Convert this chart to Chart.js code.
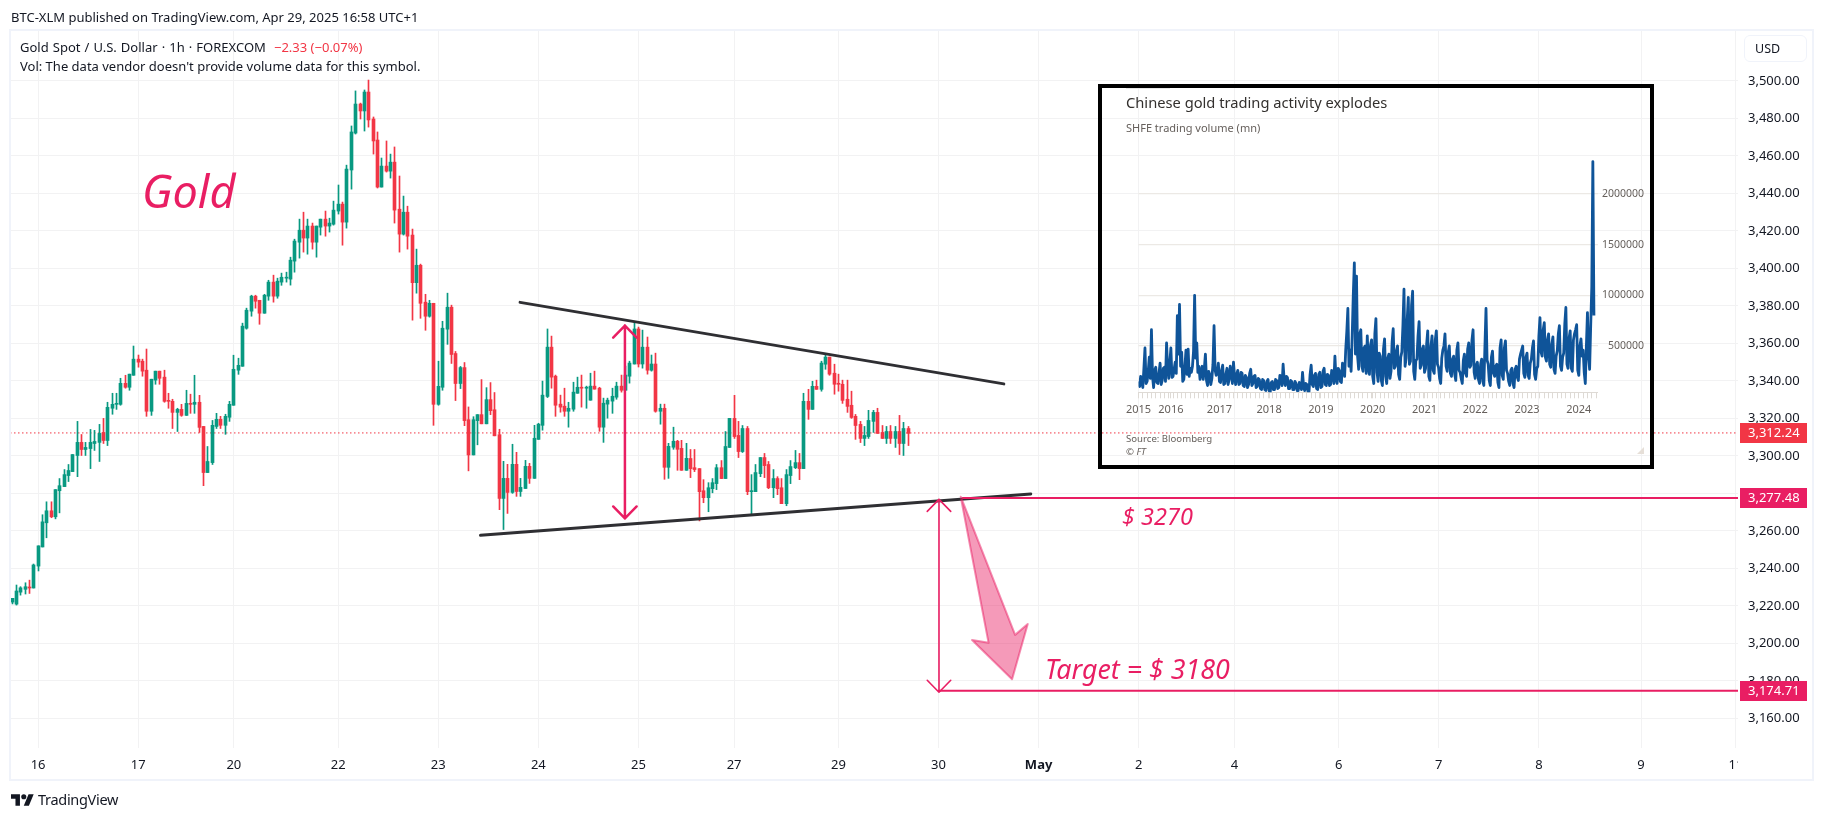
<!DOCTYPE html>
<html>
<head>
<meta charset="utf-8">
<title>Gold Spot / U.S. Dollar</title>
<script src="https://cdn.jsdelivr.net/npm/chart.js@4"></script>
<style>
  html, body { margin: 0; padding: 0; background: #fff; }
  body { width: 1824px; height: 819px; position: relative; overflow: hidden; font-family: "Noto Sans", sans-serif; color: #131722; }
  canvas { position: absolute; }
  #main { left: 0; top: 0; }
  #inset { left: 1100px; top: 90px; }
  .t { position: absolute; white-space: nowrap; line-height: 1; }
  .pink { color: #e91e63; font-style: italic; }
  #inset-box { position: absolute; left: 1098px; top: 84px; width: 548px; height: 377px; border: 4.5px solid #000; }
  #usd { position: absolute; left: 1744px; top: 35px; width: 63px; height: 27px; border: 1px solid #f0f3fa; border-radius: 6px; box-sizing: border-box; font-size: 12.5px; line-height: 25px; padding-left: 10px; }
  #resize { position: absolute; left: 1637px; top: 447px; width: 7px; height: 7px; background: #e6dfd8; clip-path: polygon(100% 0, 100% 100%, 0 100%); }
  #inset-rule { position: absolute; left: 1126px; top: 88px; width: 44px; height: 1px; background: #e6e6e6; }
</style>
</head>
<body>
<canvas id="main" width="1824" height="819"></canvas>
<canvas id="inset" width="552" height="378"></canvas>
<div id="inset-box"></div>
<div id="inset-rule"></div>
<div id="resize"></div>

<div class="t" style="left:11px;top:11px;font-size:13px">BTC-XLM published on TradingView.com, Apr 29, 2025 16:58 UTC+1</div>
<div class="t" style="left:20px;top:41px;font-size:13px;word-spacing:0.7px">Gold Spot / U.S. Dollar · 1h · FOREXCOM</div>
<div class="t" style="left:274px;top:41px;font-size:13px;color:#f23645">−2.33 (−0.07%)</div>
<div class="t" style="left:20px;top:60px;font-size:13px">Vol: The data vendor doesn't provide volume data for this symbol.</div>
<div id="usd">USD</div>

<div class="t pink" style="left:142px;top:168px;font-size:45px">Gold</div>
<div class="t pink" style="left:1122px;top:505px;font-size:23.5px">$ 3270</div>
<div class="t pink" style="left:1045px;top:656px;font-size:26.8px">Target = $ 3180</div>

<div class="t" style="left:1126px;top:95px;font-size:14.7px;color:#33302e">Chinese gold trading activity explodes</div>
<div class="t" style="left:1126px;top:122px;font-size:11px;color:#66605c">SHFE trading volume (mn)</div>
<div class="t" style="left:1126px;top:434px;font-size:9.6px;color:#66605c">Source: Bloomberg</div>
<div class="t" style="left:1126px;top:447px;font-size:9.6px;color:#66605c;font-style:italic">© FT</div>

<svg style="position:absolute;left:11px;top:794px" width="23" height="12" viewBox="0 4 36 18"><path fill="#131722" d="M14 22H7V11H0V4h14v18zM28 22h-8l7.5-18h8L28 22z"/><circle fill="#131722" cx="20" cy="8" r="4"/></svg>
<div class="t" style="left:38px;top:792px;font-size:14.5px;letter-spacing:-0.3px">TradingView</div>

<script>
// ── Hourly candles, one entry per bar ────────────────────────────────────
const OPENS = [
  3222,3220.9,3227.3,3228.8,3230,3229.5,3241.2,3251.4,3264.3,3270.7,3267.5,3281.4,3283.6,3289.5,3291.6,3300.2,3307.2,3303.4,3303.9,3306.6,
  3307.2,3312.5,3308.2,3325.4,3327.5,3327.5,3338.7,3336.6,3343,3351.6,3350.5,3345.7,3323.8,3340.4,3345.2,3342,3329.6,3329.1,3323.2,3324.8,
  3321.6,3328,3327.5,3328.6,3315.7,3291.1,3296.4,3315.7,3319.5,3316.3,3320.6,3327,3345.7,3347.8,3368.1,3377.2,3385.2,3383,3376.1,3385.2,
  3392.7,3385.2,3392.7,3394.8,3394.3,3403.9,3414,3420.4,3416.2,3422.6,3414,3422,3426.3,3422.6,3423.6,3430.6,3434.3,3424.7,3452.5,3472.2,
  3487.7,3484,3494.1,3479.7,3468.5,3443.4,3454.6,3451.9,3456.7,3431.6,3418.3,3430,3417.8,3392.4,3401.7,3382,3374.5,3381.4,3327.5,3336.6,
  3367.6,3379.3,3354.6,3338.6,3347.1,3319.3,3300.5,3318.8,3322,3317.1,3330,3324.6,3311.3,3277.3,3288,3280.5,3295.5,3281,3282.6,3294.4,
  3288,3308.8,3316.3,3331.7,3358,3342.5,3327.6,3326.5,3323.8,3324.9,3333.4,3336.6,3336.1,3329.7,3337.2,3336.1,3315.3,3327.6,3329.2,3331.3,
  3337.2,3335,3342.5,3349,3367.7,3349,3358,3345.7,3349,3323.8,3325.4,3293.9,3304.6,3307.8,3304,3292.3,3298.6,3293.7,3293.2,3281.4,
  3277.7,3282.5,3285.2,3293.7,3287.9,3304.5,3320,3310.9,3302.3,3314.6,3280.9,3280.9,3290.5,3299.1,3295.4,3283,3287.9,3283,3274.5,3289.5,
  3293.7,3296.4,3293.2,3329.1,3324.8,3337.1,3335.5,3348.9,3352.7,3344.1,3338.7,3338.2,3330.2,3327,3321.1,3316.8,3309.3,3310.3,3318.4,3323.2,
  3312.5,3309.3,3313,3309.3,3313,3306.6,3314.6
];
const HIGHS = [
  3224,3231.1,3230.2,3232.3,3233.7,3242.3,3252,3268.6,3275.5,3275.5,3282,3287.9,3292.7,3295.4,3300.7,3318.4,3311.4,3307.2,3314.1,3313.6,
  3316.8,3320,3328.6,3333.4,3333.4,3341.4,3343,3343.6,3358.6,3353.8,3351.6,3357,3340.9,3345.2,3345.2,3345.7,3333.4,3330.2,3325.4,3327.5,
  3335,3332.9,3343,3332.3,3315.7,3305,3318.9,3322.7,3321.1,3322.2,3329.1,3353.7,3352.1,3370.8,3378.8,3385.7,3385.7,3383,3386.2,3393.7,
  3396.4,3394.8,3397.5,3398,3406,3415.6,3426.3,3430,3426.3,3424.2,3422.6,3426.3,3430.6,3426.8,3435.9,3444.5,3435.4,3455.1,3476,3494.7,
  3488.2,3495.2,3500.5,3480.8,3472.8,3458.9,3468,3461,3464.8,3449.3,3438.6,3433.2,3421,3410.3,3402.3,3386.2,3383,3381.4,3350.5,3371.8,
  3386.8,3380.4,3355.7,3347.7,3349.8,3326.1,3320.9,3322,3340.7,3336.4,3339.1,3333.8,3314.2,3297.1,3295.5,3306.2,3301.9,3288,3297.6,3296,
  3316.3,3317.4,3339.9,3367.7,3363.9,3343.1,3332.4,3336.1,3328.6,3339.3,3342,3343.1,3337.2,3344.1,3345.2,3336.6,3330.8,3330.8,3336.1,3339.3,
  3343.1,3347.9,3350.5,3371.4,3368.7,3367.1,3363.4,3353.8,3354.8,3327.6,3327.6,3306.7,3315.3,3308.3,3308.3,3306.7,3303.4,3303.4,3293.2,3287.3,
  3285.7,3287.9,3295.4,3297.5,3313,3320,3332.3,3318.4,3316.2,3315.7,3290,3295.4,3299.1,3301.3,3297,3292.7,3288.9,3287.9,3292.7,3297.5,
  3302.9,3301.3,3333.4,3335.5,3339.8,3340.4,3350.5,3354.3,3352.7,3348.9,3343.6,3340.4,3340.4,3334.5,3322.1,3318.4,3315.7,3324.3,3324.3,3325.4,
  3316.2,3315.7,3316.2,3315.7,3321.6,3317.9,3315.7
];
const LOWS = [
  3221,3220.4,3225.7,3226.3,3226.6,3229.5,3238.6,3251.4,3256.3,3267,3266.4,3269.6,3283.6,3286.3,3291.6,3288.9,3300.2,3300.2,3293.2,3302.9,
  3297,3306.6,3305.5,3322.2,3324.8,3327,3336.1,3335,3343,3347.3,3342.5,3321.1,3321.6,3338.2,3338.2,3328.6,3325.4,3314.6,3313,3321.1,
  3321.6,3322.7,3322.7,3312.5,3284.1,3291.1,3295.4,3314.6,3314.6,3311.5,3318.4,3327,3343.5,3347.8,3367.6,3374.5,3378.8,3370.2,3376.1,3383,
  3382,3384.1,3391,3392.7,3391.1,3398,3405.5,3408.7,3407.6,3410.3,3406,3417.8,3417.2,3419.4,3423.1,3429,3412.4,3421.5,3442.3,3471.7,
  3479.7,3473.3,3475.4,3461,3442.9,3443.4,3451.4,3448.2,3424.2,3408.7,3417.8,3410.3,3372.4,3386.8,3373.4,3367,3374,3316.3,3327,3335,
  3359.5,3349.3,3329.5,3335.9,3316.1,3292,3300.5,3305.9,3317.1,3317.1,3322,3310.7,3271.3,3260.7,3269.3,3280,3278.4,3278.4,3282.6,3285.3,
  3288,3308.8,3313.7,3331.1,3336.1,3321.1,3323.3,3321.1,3315.3,3323.8,3333.4,3326,3325.4,3329.7,3335.6,3313.1,3307.2,3320.1,3322.7,3330.2,
  3334,3335,3338.8,3349,3347.4,3346.8,3343.6,3345.2,3323.3,3316.9,3287.5,3288,3303.5,3292.3,3292.3,3292.3,3288.4,3291.6,3265.3,3275,
  3270.2,3280.3,3282,3287.9,3287.9,3304.5,3309.3,3299.1,3301.8,3279.3,3268.6,3280.9,3288.9,3288.4,3282.5,3277.7,3279.3,3274.5,3273.4,3285.2,
  3293.2,3287.3,3293.2,3319.5,3324.8,3335.5,3334.5,3346.2,3343,3332.9,3334.5,3328,3323.2,3320,3308.8,3307.1,3305.5,3309.3,3312.5,3312,
  3309.3,3306.6,3306.6,3304.5,3300.7,3300.2,3305.5
];
const CLOSES = [
  3224,3227.9,3229.6,3230.2,3229.5,3241.8,3252,3264.8,3270.7,3267.5,3282,3284.1,3290,3292.2,3300.7,3307.2,3303.4,3304.5,3307.2,3307.7,
  3312,3308.2,3325.9,3327.5,3328,3338.7,3336.6,3343.6,3351.6,3350,3345.2,3323.8,3340.9,3345.2,3341.4,3329.1,3329.1,3323.2,3324.8,3321.6,
  3328,3327.5,3328.6,3315.2,3291.1,3297,3316.3,3319.5,3316.3,3321.1,3327.5,3346.2,3348.3,3369.2,3377.7,3385.2,3382.5,3376.1,3385.7,3392.7,
  3385.2,3393.2,3395.3,3395.3,3404.4,3414.6,3420.4,3416.2,3422.6,3414,3422.6,3426.3,3422.6,3424.2,3431.1,3434.3,3424.7,3453,3472.8,3487.7,
  3484,3494.1,3479.2,3468,3443.4,3454.6,3451.9,3456.7,3431.1,3418.3,3430,3417.2,3392.4,3401.7,3381.4,3374.5,3381.4,3327.5,3337.1,3368.1,
  3379.3,3354.1,3338.6,3347.1,3318.8,3300.5,3319.3,3322,3317.1,3330,3324.1,3310.7,3277.3,3288,3280.5,3295.5,3281,3283.2,3294.4,3288,
  3309.4,3316.9,3332.4,3358,3342,3327,3326,3323.8,3325.4,3334,3336.6,3336.1,3336.1,3337.2,3335.6,3315.3,3328.1,3329.7,3331.8,3337.2,
  3335,3343.1,3349.5,3367.7,3349,3358,3345.7,3349,3323.8,3325.4,3293.9,3305.1,3307.8,3303.5,3292.3,3298.7,3293.2,3292.7,3280.9,3277.7,
  3283,3285.7,3293.7,3287.9,3305,3320,3310.3,3302.3,3314.6,3280.9,3281.4,3291.1,3299.1,3294.8,3283,3287.9,3282.5,3274.5,3290,3294.3,
  3296.4,3293.2,3329.1,3324.8,3337.1,3335.5,3349.5,3352.7,3343.6,3338.2,3338.2,3329.6,3326.4,3320.5,3316.2,3309.3,3310.9,3318.9,3323.2,3312,
  3309.3,3313,3309.3,3313,3306.6,3314.6,3312
];

// ── Axis ticks ───────────────────────────────────────────────────────────
const PRICE_TICKS = [3500, 3480, 3460, 3440, 3420, 3400, 3380, 3360, 3340, 3320, 3300, 3280, 3260, 3240, 3220, 3200, 3180, 3160];
const TIME_TICKS  = [6, 29, 51, 75, 98, 121, 144, 166, 190, 213, 236, 259, 281, 305, 328, 351, 374.5, 396.3];
const TIME_LABELS = ['16', '17', '20', '22', '23', '24', '25', '27', '29', '30', 'May', '2', '4', '6', '7', '8', '9', '11'];

// ── Price levels and drawings, in bar index / price ──────────────────────
const LAST_PRICE   = 3312.24;
const BREAK_LEVEL  = 3277.48;
const TARGET_LEVEL = 3174.71;
const UPPER_TREND  = [[116.8, 3381.9], [228, 3338.4]];
const LOWER_TREND  = [[107.7, 3257.6], [234.2, 3279.7]];
const BREAK_LINE   = [[218.6, BREAK_LEVEL], [396.8, BREAK_LEVEL]];
const TARGET_LINE  = [[213.1, TARGET_LEVEL], [396.8, TARGET_LEVEL]];
const RANGE_ARROW  = [[138.2, 3363.1], [140.9, 3369.5], [143.6, 3363.1], [140.9, 3369.5], [140.9, 3266.6], [138.2, 3273], [140.9, 3266.6], [143.6, 3273]];
const TARGET_ARROW = [[210.4, 3270.4], [213.1, 3276.8], [215.8, 3270.4], [213.1, 3276.8], [213.1, 3173.9], [210.4, 3180.3], [213.1, 3173.9], [215.8, 3180.3]];
const DOWN_ARROW   = [[218.1, 3278.2], [230.6, 3204.5], [233.5, 3210.3], [229.9, 3180.8], [220.7, 3201.8], [224.5, 3200.3], [218.1, 3278.2]];

// ── Inset: SHFE trading volume, thousands ────────────────────────────────
const INSET_VOLUME = [
  150,100,200,140,90,280,480,130,150,250,390,180,660,200,90,260,290,140,130,230,
  330,120,160,280,290,150,530,280,180,330,480,190,200,270,340,230,800,420,910,300,
  440,150,170,300,460,220,470,200,280,240,300,450,1000,380,530,240,300,170,240,300,
  170,280,420,160,110,250,220,120,180,320,700,260,210,240,330,150,140,260,310,120,
  130,220,280,120,170,300,240,130,340,200,120,220,260,120,130,240,230,110,100,210,
  190,90,120,230,270,110,130,200,210,90,100,180,170,80,70,170,160,70,60,150,
  170,60,40,140,150,70,70,170,160,80,90,210,200,110,320,160,110,200,190,80,
  80,160,150,70,70,150,130,60,60,140,130,70,240,100,60,130,120,50,50,220,
  310,120,100,210,230,80,70,220,240,90,100,250,280,120,110,220,210,110,120,260,
  240,130,400,180,130,280,260,150,140,330,320,200,460,640,870,300,460,250,600,1000,
  1320,420,1190,400,270,620,660,300,250,480,500,230,600,300,220,510,560,200,130,620,
  770,240,150,430,400,160,110,470,570,200,130,380,420,180,250,540,670,280,300,450,
  500,220,170,390,440,700,1060,300,380,760,980,320,350,900,1040,250,170,360,370,600,
  740,280,310,470,500,240,280,520,650,200,160,500,600,260,230,560,650,320,290,180,
  130,380,460,500,620,300,250,440,500,230,200,370,400,220,160,460,530,260,240,180,
  130,360,420,230,200,470,530,290,310,560,660,240,180,310,340,170,130,320,370,150,
  110,500,870,360,320,160,110,390,450,230,200,300,320,140,90,480,560,210,170,480,
  550,260,230,150,110,260,280,130,90,270,300,190,160,370,420,460,500,230,190,390,
  430,210,180,330,370,480,550,220,170,280,300,600,780,440,400,660,730,390,350,560,
  620,320,290,520,590,270,230,400,450,620,700,300,260,390,430,720,880,320,280,580,
  650,280,250,560,620,660,710,260,210,500,570,400,460,240,130,500,830,400,270,700,
  1080,2320,800
];
const INSET_YEAR_TICKS  = [0, 30, 75, 121, 169, 217, 265, 312, 360, 408];
const INSET_YEAR_LABELS = ['2015', '2016', '2017', '2018', '2019', '2020', '2021', '2022', '2023', '2024'];
const INSET_VALUE_TICKS = [500, 1000, 1500, 2000];

// ── Colours ──────────────────────────────────────────────────────────────
const UP = '#089981', DOWN = '#f23645', PINK = '#e91e63', TREND = '#2f2f33', GRID = '#f2f2f3', FONT = '"Noto Sans", sans-serif';

const toPoints = rows => rows.map(([x, y]) => ({ x, y }));
const candleColors = OPENS.map((o, i) => (CLOSES[i] >= o ? UP : DOWN));

function overlay(rows, color, width, order, extra) {
  return Object.assign({
    type: 'line', data: toPoints(rows), borderColor: color, borderWidth: width, pointRadius: 0,
    fill: false, tension: 0, order, borderCapStyle: 'round', borderJoinStyle: 'round'
  }, extra || {});
}

// Candles snap to whole pixels, same as the platform does
const snapBars = {
  id: 'snapBars',
  beforeDatasetsDraw(chart) {
    chart.data.datasets.forEach((ds, idx) => {
      if (ds.type !== 'bar') return;
      chart.getDatasetMeta(idx).data.forEach(el => { el.x = Math.floor(el.x) + 0.5; });
    });
  }
};

// Frame around the pane and the coloured price tags on the axis
const paneDecor = {
  id: 'paneDecor',
  afterDraw(chart) {
    const { ctx, scales: { y }, chartArea } = chart;
    ctx.save();
    ctx.fillStyle = '#fff';
    ctx.fillRect(chartArea.right, chartArea.bottom + 1, 72, 30);
    ctx.strokeStyle = '#f0f3fa';
    ctx.lineWidth = 2;
    ctx.strokeRect(10, 30, 1803, 750);
    ctx.font = '13px ' + FONT;
    ctx.textAlign = 'left';
    ctx.textBaseline = 'middle';
    [[LAST_PRICE, DOWN], [BREAK_LEVEL, PINK], [TARGET_LEVEL, PINK]].forEach(([price, color]) => {
      const py = Math.round(y.getPixelForValue(price));
      ctx.fillStyle = color;
      ctx.fillRect(1740, py - 10, 67, 20);
      ctx.fillStyle = '#fff';
      ctx.fillText(price.toLocaleString('en-US', { minimumFractionDigits: 2 }), 1748, py);
    });
    ctx.restore();
  }
};

new Chart(document.getElementById('main'), {
  type: 'bar',
  plugins: [snapBars, paneDecor],
  data: {
    datasets: [
      overlay(TARGET_LINE, PINK, 2, 0),
      overlay(BREAK_LINE, PINK, 2, 0),
      overlay(TARGET_ARROW, PINK, 1.6, 0),
      overlay(RANGE_ARROW, PINK, 2.5, 0),
      overlay(DOWN_ARROW, 'rgba(233,30,99,0.5)', 2, 0, { fill: 'shape', backgroundColor: 'rgba(233,30,99,0.45)' }),
      overlay(UPPER_TREND, TREND, 3, 1),
      overlay(LOWER_TREND, TREND, 3, 1),
      {
        type: 'bar', data: OPENS.map((o, i) => ({ x: i, y: [o, CLOSES[i]] })),
        backgroundColor: candleColors, barThickness: 3, minBarLength: 1, order: 2, grouped: false
      },
      {
        type: 'bar', data: LOWS.map((l, i) => ({ x: i, y: [l, HIGHS[i]] })),
        backgroundColor: candleColors, barThickness: 1, order: 3, grouped: false
      },
      overlay([[-0.46, LAST_PRICE], [396.8, LAST_PRICE]], DOWN, 1, 4, { borderDash: [1.5, 2.5], borderCapStyle: 'butt' })
    ]
  },
  options: {
    responsive: false,
    animation: false,
    devicePixelRatio: 1,
    layout: { padding: { left: 10, top: 30, right: 11, bottom: 39 } },
    plugins: { legend: { display: false }, tooltip: { enabled: false } },
    scales: {
      x: {
        type: 'linear', min: -0.46, max: 396.78, offset: false,
        grid: { color: GRID, offset: false, drawTicks: false },
        border: { display: false },
        afterBuildTicks: s => { s.ticks = TIME_TICKS.map(value => ({ value })); },
        afterFit: s => { s.height = 32; },
        ticks: {
          autoSkip: false, maxRotation: 0, padding: 9, color: '#131722',
          font: ctx => ({ family: FONT, size: 13, weight: ctx.index === 10 ? 'bold' : 'normal' }),
          callback: (v, i) => TIME_LABELS[i]
        }
      },
      y: {
        position: 'right', min: 3144.15, max: 3527.2, beginAtZero: false,
        grid: { color: GRID, drawTicks: false },
        border: { display: false },
        afterBuildTicks: s => { s.ticks = PRICE_TICKS.map(value => ({ value })); },
        afterFit: s => { s.width = 75; },
        ticks: {
          autoSkip: false, padding: 10, color: '#131722', font: { family: FONT, size: 13 },
          callback: v => v.toLocaleString('en-US', { minimumFractionDigits: 2 })
        }
      }
    }
  }
});

// ── Inset chart ──────────────────────────────────────────────────────────
const INSET_TEXT = '#66605c';
new Chart(document.getElementById('inset'), {
  type: 'line',
  data: {
    datasets: [{
      data: INSET_VOLUME.map((v, i) => ({ x: i, y: v })),
      borderColor: '#0f5499', borderWidth: 2.8, pointRadius: 0, tension: 0, borderJoinStyle: 'round'
    }]
  },
  options: {
    responsive: false,
    animation: false,
    devicePixelRatio: 1,
    layout: { padding: { left: 38.5, top: 60, right: 8, bottom: 0 } },
    plugins: { legend: { display: false }, tooltip: { enabled: false } },
    scales: {
      x: {
        type: 'linear', min: 0, max: 425.4, offset: false,
        grid: { drawOnChartArea: false, color: '#dedad5', tickLength: 6 },
        border: { display: true, color: '#dedad5' },
        afterBuildTicks: s => {
          const ticks = [];
          for (let value = 0; value <= 424; value += 4) ticks.push({ value });
          INSET_YEAR_TICKS.filter(v => v % 4).forEach(value => ticks.push({ value }));
          s.ticks = ticks.sort((a, b) => a.value - b.value);
        },
        afterFit: s => { s.height = 75.7; },
        ticks: {
          autoSkip: false, maxRotation: 0, padding: 5, color: INSET_TEXT, font: { family: FONT, size: 11 },
          callback: v => {
            const k = INSET_YEAR_TICKS.indexOf(v);
            return k >= 0 ? INSET_YEAR_LABELS[k] : '';
          }
        }
      },
      y: {
        position: 'right', min: 43, max: 2434, beginAtZero: false,
        grid: { color: '#ece9e5', lineWidth: 1.2, drawTicks: false },
        border: { display: false },
        afterBuildTicks: s => { s.ticks = INSET_VALUE_TICKS.map(value => ({ value })); },
        afterFit: s => { s.width = 46.4; },
        ticks: {
          autoSkip: false, padding: 0, crossAlign: 'far', color: INSET_TEXT, font: { family: FONT, size: 10.5 },
          callback: v => String(v * 1000)
        }
      }
    }
  }
});
</script>
</body>
</html>
